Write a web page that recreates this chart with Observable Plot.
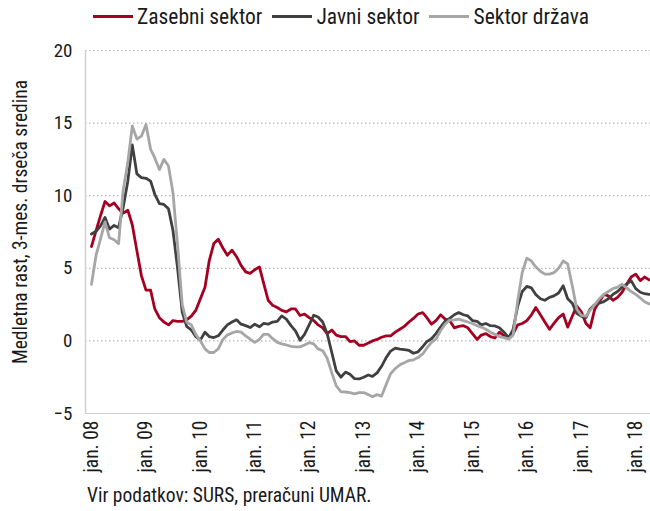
<!DOCTYPE html>
<html><head><meta charset="utf-8">
<script src="https://cdn.jsdelivr.net/npm/d3@7"></script>
<script src="https://cdn.jsdelivr.net/npm/@observablehq/plot@0.6"></script>
<style>
body{margin:0;background:#fff;font-family:"Liberation Sans Narrow","Roboto Condensed","Liberation Sans",sans-serif;}
#wrap{position:relative;width:650px;height:511px;overflow:hidden;}
#chart{position:absolute;left:0;top:0;}
#legend{position:absolute;top:4px;left:93px;display:flex;align-items:center;font-size:21.5px;color:#1a1a1a;white-space:nowrap;}
.item{display:flex;align-items:center;margin-right:10px;}
.sw{width:40px;height:3px;margin-right:4px;}
#caption{position:absolute;left:87px;top:484px;font-size:19.5px;color:#1a1a1a;white-space:nowrap;}
</style></head><body>
<div id="wrap"><div id="chart"></div><div id="legend"></div><div id="caption">Vir podatkov: SURS, preračuni UMAR.</div></div>
<script>
const seriesNames = ["Zasebni sektor", "Javni sektor", "Sektor država"];
const seriesColors = ["#A50021", "#404040", "#A6A6A6"];
const startYear = 2008;
const tickYears = [2008, 2009, 2010, 2011, 2012, 2013, 2014, 2015, 2016, 2017, 2018];
const yTicks = [-5, 0, 5, 10, 15, 20];
const yTitle = "Medletna rast, 3-mes. drseča sredina";

// monthly values, Jan 2008 – Apr 2018
const zasebni = [
  6.5, 7.6, 8.6, 9.6, 9.3, 9.5, 9.1, 8.8, 9.0, 8.0, 6.2, 4.5,
  3.5, 3.5, 2.2, 1.6, 1.3, 1.1, 1.4, 1.35, 1.35, 1.45, 1.7, 2.1,
  2.9, 3.7, 5.5, 6.7, 7.0, 6.4, 5.9, 6.25, 5.8, 5.2, 4.75, 4.65,
  4.9, 5.1, 4.0, 2.8, 2.45, 2.3, 2.1, 2.0, 2.2, 2.2, 1.75, 1.85,
  1.6, 1.4, 1.1, 0.9, 0.5, 0.75, 0.4, 0.3, 0.3, -0.05, 0.0, -0.3,
  -0.3, -0.15, 0.0, 0.1, 0.25, 0.35, 0.35, 0.6, 0.8, 1.0, 1.3, 1.55,
  1.85, 1.95, 1.6, 1.15, 1.4, 1.8, 1.5, 1.4, 0.9, 1.0, 1.05, 0.9,
  0.5, 0.1, 0.4, 0.5, 0.3, 0.2, 0.6, 0.35, 0.25, 0.5, 1.1, 1.2,
  1.4, 1.8, 2.3, 1.8, 1.3, 0.8, 1.2, 1.6, 1.85, 0.95, 1.7, 2.4,
  2.0, 1.2, 0.9, 2.2, 2.7, 3.2, 3.1, 2.8, 3.0, 3.35, 3.9, 4.4,
  4.6, 4.15, 4.4, 4.2
];
const javni = [
  7.36, 7.55, 7.9, 8.5, 7.7, 7.95, 7.8, 9.2, 11.0, 13.5, 11.5, 11.25,
  11.2, 11.0, 10.1, 9.45, 9.4, 9.1, 7.6, 5.0, 2.0, 1.0, 0.75, 0.3,
  0.07, 0.6, 0.3, 0.23, 0.35, 0.75, 1.1, 1.3, 1.45, 1.15, 1.05, 0.92,
  1.15, 0.97, 1.2, 1.15, 1.3, 1.35, 1.72, 1.5, 1.05, 0.69, 0.05, 0.45,
  1.1, 1.77, 1.65, 1.3, 0.5, -0.8, -2.07, -2.5, -2.15, -2.3, -2.6, -2.62,
  -2.5, -2.35, -2.45, -2.2, -1.75, -1.15, -0.7, -0.5, -0.57, -0.6, -0.66, -0.85,
  -0.75, -0.4, -0.05, 0.15, 0.5, 0.95, 1.35, 1.55, 1.8, 1.95, 1.8, 1.72,
  1.4, 1.35, 1.1, 1.2, 1.05, 1.03, 0.9, 0.6, 0.2, 0.8, 2.4, 3.4,
  3.75, 3.65, 3.2, 2.9, 2.8, 3.0, 3.1, 3.3, 3.8, 2.9, 2.6, 1.9,
  1.7, 1.6, 2.2, 2.5, 2.6, 2.7, 2.9, 3.2, 3.4, 3.7, 3.9, 4.15,
  3.6, 3.35, 3.25, 3.2
];
const drzava = [
  3.9, 5.9, 7.0, 8.2, 7.1, 6.97, 6.7, 10.4, 12.3, 14.8, 13.9, 14.1,
  14.9, 13.2, 12.6, 11.8, 12.5, 12.05, 10.2, 6.6, 2.5, 1.3, 1.1, 0.45,
  0.0, -0.55, -0.8, -0.8, -0.55, 0.1, 0.4, 0.55, 0.65, 0.6, 0.35, 0.12,
  -0.1, 0.1, 0.45, 0.45, 0.15, -0.1, -0.2, -0.28, -0.38, -0.41, -0.41, -0.28,
  -0.12, -0.2, -0.55, -0.68, -1.2, -2.2, -3.1, -3.5, -3.52, -3.56, -3.65, -3.56,
  -3.56, -3.7, -3.85, -3.7, -3.8, -3.0, -2.25, -1.9, -1.65, -1.5, -1.35, -1.3,
  -1.15, -0.9, -0.5, -0.1, 0.12, 0.7, 1.15, 1.43, 1.45, 1.5, 1.4, 1.3,
  1.2, 1.05, 0.95, 0.8, 0.6, 0.45, 0.3, 0.23, 0.12, 0.4, 2.8, 4.7,
  5.7, 5.5, 5.1, 4.8, 4.6, 4.6, 4.7, 5.0, 5.5, 5.3, 3.8, 2.2,
  1.75, 1.7, 2.1, 2.5, 2.9, 3.2, 3.4, 3.6, 3.7, 3.9, 3.65, 3.4,
  3.2, 2.95, 2.7, 2.55
];

const monthDate = i => new Date(Date.UTC(startYear, i, 1));
const data = [];
[zasebni, javni, drzava].forEach((arr, k) =>
  arr.forEach((v, i) => data.push({date: monthDate(i), value: v, series: seriesNames[k]})));
const tickDates = tickYears.map(y => new Date(Date.UTC(y, 0, 1)));
const xStart = new Date(Date.UTC(2007, 10, 22));
const xEnd = new Date(Date.UTC(2018, 3, 10));

const font = '"Liberation Sans Narrow","Roboto Condensed","Liberation Sans",sans-serif';
const chart = Plot.plot({
  width: 650,
  height: 485,
  marginTop: 50,
  marginBottom: 72,
  marginLeft: 85,
  marginRight: 0,
  style: {fontFamily: font, fontSize: "19px", color: "#1a1a1a", background: "transparent"},
  x: {type: "utc", domain: [xStart, xEnd]},
  y: {domain: [-5, 20]},
  color: {domain: seriesNames, range: seriesColors},
  marks: [
    Plot.ruleY(yTicks.filter(d => d > -5), {stroke: "#b5b5b5", strokeDasharray: "1.5,2.5", strokeWidth: 1.2}),
    Plot.ruleY([-5], {stroke: "#d0d0d0", strokeWidth: 1.2}),
    Plot.ruleX([xStart], {y1: -5, y2: 20, stroke: "#d0d0d0", strokeWidth: 1.5}),
    Plot.axisY({ticks: yTicks, tickSize: 0, tickPadding: 13, fontSize: 19, label: null}),
    Plot.text([yTitle], {frameAnchor: "left", textAnchor: "middle", dx: -65, dy: -10, rotate: -90, fontSize: 19.5, fill: "#1a1a1a"}),
    Plot.axisX({ticks: tickDates, tickSize: 0, tickPadding: 7, tickRotate: -90, fontSize: 19.5, tickFormat: d => `jan. ${String(d.getUTCFullYear() % 100).padStart(2, "0")}`, label: null}),
    Plot.line(data, {x: "date", y: "value", stroke: "series", z: "series", strokeWidth: 2.8})
  ]
});
document.getElementById("chart").appendChild(chart);

const legend = document.getElementById("legend");
seriesNames.forEach((name, k) => {
  const item = document.createElement("div");
  item.className = "item";
  const sw = document.createElement("span");
  sw.className = "sw";
  sw.style.background = seriesColors[k];
  const t = document.createElement("span");
  t.textContent = name;
  item.appendChild(sw); item.appendChild(t);
  legend.appendChild(item);
});
</script>
</body></html>
